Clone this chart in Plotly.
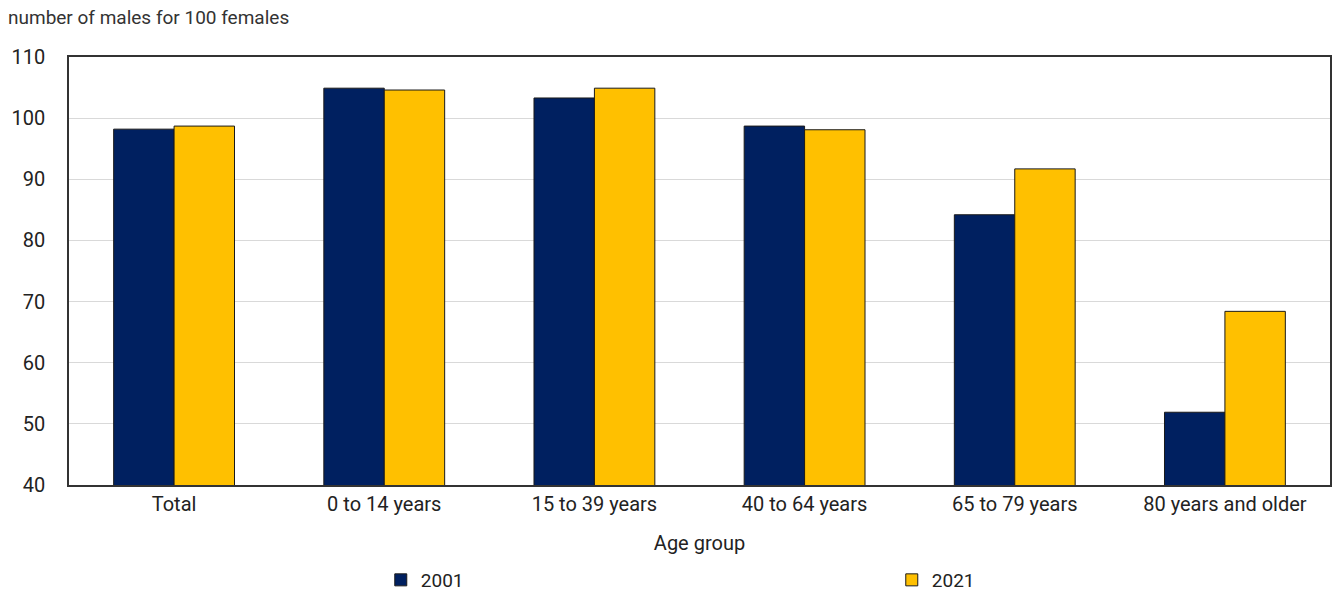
import plotly.graph_objects as go

# Sex ratio by age group
age_groups = ["Total", "0 to 14 years", "15 to 39 years", "40 to 64 years",
              "65 to 79 years", "80 years and older"]
ratio_2001 = [98.2, 104.9, 103.3, 98.7, 84.2, 51.9]
ratio_2021 = [98.7, 104.6, 104.9, 98.1, 91.7, 68.4]

y_ticks = [40, 50, 60, 70, 80, 90, 100, 110]

FONT = "Liberation Sans Narrow, Arial Narrow, Roboto, sans-serif"
TXT = "#222222"

fig = go.Figure()
fig.add_trace(go.Bar(
    name="2001", x=age_groups, y=ratio_2001,
    marker=dict(color="#002060", line=dict(color="#1a1a1a", width=1)),
))
fig.add_trace(go.Bar(
    name="2021", x=age_groups, y=ratio_2021,
    marker=dict(color="#FFC000", line=dict(color="#1a1a1a", width=1)),
))

fig.update_layout(
    width=1335, height=592,
    margin=dict(l=69, r=3, t=57, b=107),
    paper_bgcolor="white", plot_bgcolor="white",
    font=dict(family=FONT, color=TXT, size=18),
    barmode="group", bargap=0.425, bargroupgap=0,
    title=dict(text="number of males for 100 females",
               x=8 / 1335, xanchor="left", xref="container",
               y=1 - 17 / 592, yanchor="middle", yref="container",
               font=dict(family=FONT, size=19, color="#333333")),
    legend=dict(orientation="h", x=0.668, xanchor="center", xref="container",
                y=12 / 592, yanchor="middle", yref="container",
                entrywidth=466, entrywidthmode="pixels",
                tracegroupgap=0, borderwidth=0,
                font=dict(family=FONT, size=19, color=TXT),
                itemclick=False),
    showlegend=True,
)

fig.update_xaxes(
    showline=True, linecolor="#333333", linewidth=1.5, mirror=True,
    ticks="", showgrid=False,
    title=dict(text="Age group", standoff=21, font=dict(family=FONT, size=20)),
    tickfont=dict(family=FONT, size=20),
)
fig.update_yaxes(
    range=[40, 110], tickvals=y_ticks,
    showline=True, linecolor="#333333", linewidth=1.5, mirror=True,
    showgrid=True, gridcolor="#d9d9d9", gridwidth=1,
    ticks="", ticklabelstandoff=18,
    tickfont=dict(family=FONT, size=20),
    zeroline=False,
)

fig.write_html("out.html")
